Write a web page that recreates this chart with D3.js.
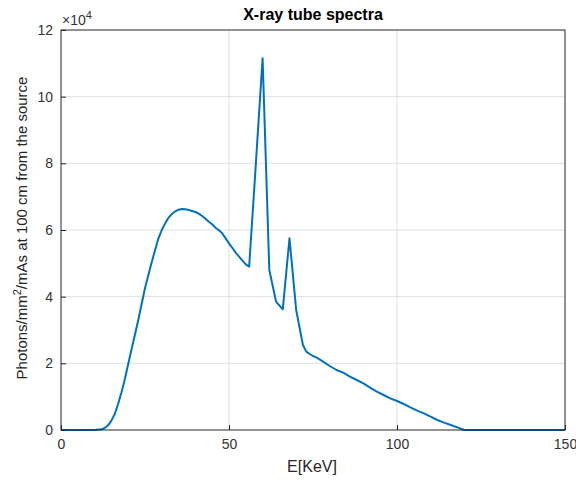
<!DOCTYPE html>
<html>
<head>
<meta charset="utf-8">
<script src="https://cdn.jsdelivr.net/npm/d3@7"></script>
<style>
body { margin: 0; background: #fff; }
text { font-family: "Liberation Sans", Arial, sans-serif; }
</style>
</head>
<body>
<script>
// spectrum
var energy = [0, 2, 4, 6, 8, 10, 12, 13, 14, 15, 16, 17, 18, 19, 20, 21, 22, 23, 24, 25,
  26, 27, 28, 29, 30, 31, 32, 33, 34, 35, 36, 37, 38, 39, 40, 41, 42, 43, 44, 45,
  46, 47, 48, 49, 50, 51, 52, 53, 54, 55, 56, 58, 60, 62, 64, 66, 68, 70, 72, 73,
  74, 75, 76, 78, 80, 82, 84, 86, 88, 90, 92, 94, 96, 98, 100, 102, 104, 106, 108, 110,
  112, 114, 116, 118, 120, 125, 130, 135, 140, 145, 150];
var photons = [0, 0, 0, 0, 0, 0, 200, 600, 1400, 2800, 4800, 7800, 11300, 15200, 19800, 24200, 28600, 33000, 37800, 42500,
  46500, 50300, 54000, 57500, 60000, 62000, 63700, 64800, 65600, 66100, 66300, 66200, 66000, 65700, 65400, 64900, 64200, 63400, 62500, 61700,
  60700, 59900, 59000, 57500, 56000, 54600, 53200, 52000, 50800, 49700, 49000, 80000, 111500, 48000, 38500, 36200, 57500, 36000, 25500, 23500,
  22800, 22200, 21800, 20500, 19200, 18000, 17200, 16000, 15000, 14000, 12700, 11500, 10500, 9500, 8700, 7800, 6800, 5800, 5000, 4000,
  3000, 2200, 1500, 800, 0, 0, 0, 0, 0, 0, 0];
var xTicks = [0, 50, 100, 150];
var yTicks = [0, 20000, 40000, 60000, 80000, 100000, 120000];

//plot box
var W = 576, H = 480;
var pLeft = 61, pRight = 565, pTop = 30, pBottom = 430;

var svg = d3.select("body").append("svg")
  .attr("width", W)
  .attr("height", H);

var x = d3.scaleLinear().domain([0, 150]).range([pLeft, pRight]);
var y = d3.scaleLinear().domain([0, 120000]).range([pBottom, pTop]);

//grid
svg.append("g").selectAll("line").data(xTicks.slice(1, -1)).enter().append("line")
  .attr("x1", d => x(d)).attr("x2", d => x(d))
  .attr("y1", pTop).attr("y2", pBottom)
  .attr("stroke", "#dfdfdf").attr("stroke-width", 1);
svg.append("g").selectAll("line").data(yTicks.slice(1, -1)).enter().append("line")
  .attr("x1", pLeft).attr("x2", pRight)
  .attr("y1", d => y(d)).attr("y2", d => y(d))
  .attr("stroke", "#dfdfdf").attr("stroke-width", 1);

//curve
var line = d3.line().x((d, i) => x(energy[i])).y(d => y(d));
svg.append("path")
  .datum(photons)
  .attr("d", line)
  .attr("fill", "none")
  .attr("stroke", "#0072BD")
  .attr("stroke-width", 2)
  .attr("stroke-linejoin", "round");

//axes
var xAxis = d3.axisBottom(x).tickValues(xTicks).tickSize(-5).tickPadding(9);
var yAxis = d3.axisLeft(y).tickValues(yTicks).tickSize(-5).tickPadding(8)
  .tickFormat(d => d / 10000);

var gx = svg.append("g").attr("transform", "translate(0," + pBottom + ")").call(xAxis);
var gy = svg.append("g").attr("transform", "translate(" + pLeft + ",0)").call(yAxis);
[gx, gy].forEach(function(g) {
  g.select(".domain").remove();
  g.selectAll("line").attr("stroke", "#262626");
  g.selectAll("text").attr("fill", "#333").style("font-size", "14px");
});

//box
svg.append("rect")
  .attr("x", pLeft).attr("y", pTop)
  .attr("width", pRight - pLeft).attr("height", pBottom - pTop)
  .attr("fill", "none").attr("stroke", "#262626").attr("stroke-width", 1);

//exponent
var ex = svg.append("text").attr("x", pLeft + 1).attr("y", 25)
  .attr("fill", "#333").style("font-size", "14px");
ex.append("tspan").text("\u00d710");
ex.append("tspan").attr("dy", -6).style("font-size", "11px").text("4");

//labels
svg.append("text").attr("x", 313).attr("y", 20)
  .attr("text-anchor", "middle").style("font-size", "16px").style("font-weight", "bold")
  .attr("fill", "#000").text("X-ray tube spectra");

svg.append("text").attr("x", 312).attr("y", 472)
  .attr("text-anchor", "middle").style("font-size", "16px")
  .attr("fill", "#262626").text("E[KeV]");

var yl = svg.append("text")
  .attr("transform", "translate(27,228) rotate(-90)")
  .attr("text-anchor", "middle").style("font-size", "15px").attr("fill", "#262626");
yl.append("tspan").text("Photons/mm");
yl.append("tspan").attr("dy", -6).style("font-size", "11px").text("2");
yl.append("tspan").attr("dy", 6).text("/mAs at 100 cm from the source");
</script>
</body>
</html>
